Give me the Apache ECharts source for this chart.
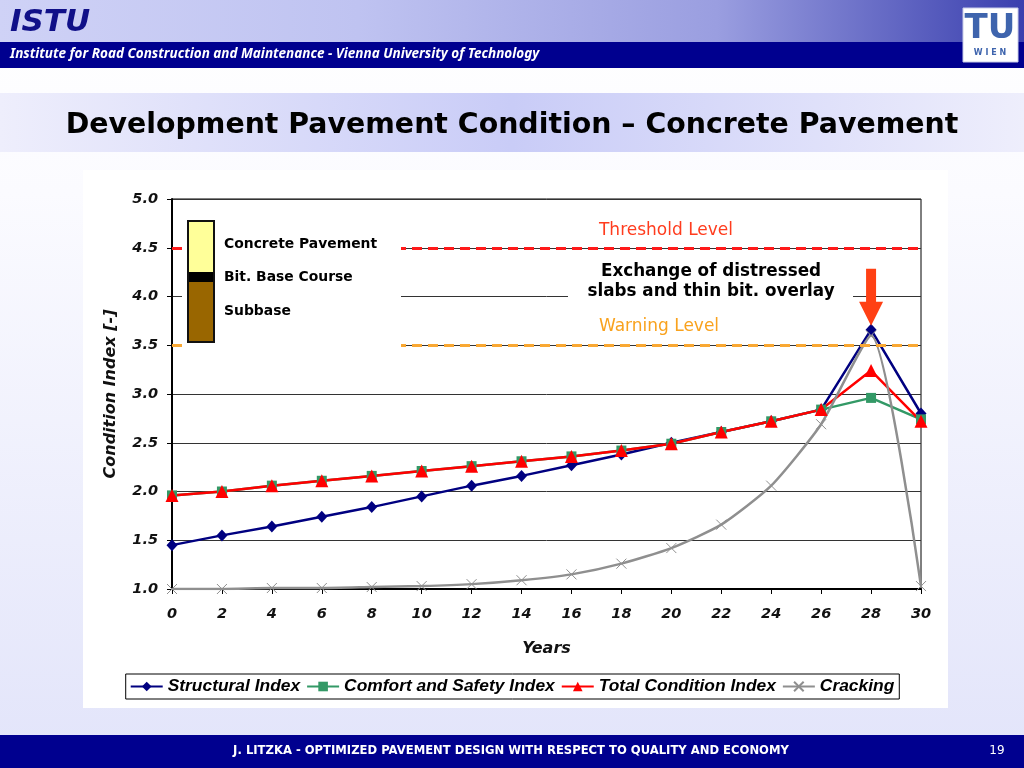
<!DOCTYPE html>
<html>
<head>
<meta charset="utf-8">
<script src="https://cdn.jsdelivr.net/npm/echarts@6/dist/echarts.min.js"></script>
<style>
html,body{margin:0;padding:0;background:#fff;}
#c{width:1024px;height:768px;}
</style>
</head>
<body>
<div id="c"></div>
<script>
const years = [0, 2, 4, 6, 8, 10, 12, 14, 16, 18, 20, 22, 24, 26, 28, 30];
const structural = [1.45, 1.55, 1.64, 1.74, 1.84, 1.95, 2.06, 2.16, 2.27, 2.38, 2.50, 2.61, 2.72, 2.84, 3.66, 2.80];
const comfort = [1.96, 2.00, 2.06, 2.11, 2.16, 2.21, 2.26, 2.31, 2.36, 2.42, 2.49, 2.61, 2.72, 2.84, 2.96, 2.74];
const totalIdx = [1.96, 2.00, 2.06, 2.11, 2.16, 2.21, 2.26, 2.31, 2.36, 2.42, 2.49, 2.61, 2.72, 2.84, 3.24, 2.72];
const cracking = [1.00, 1.00, 1.01, 1.01, 1.02, 1.03, 1.05, 1.09, 1.15, 1.26, 1.42, 1.66, 2.06, 2.69, 3.60, 1.03];
const seriesNames = ['Structural Index', 'Comfort and Safety Index', 'Total Condition Index', 'Cracking'];
const thresholdLevel = 4.5;
const warningLevel = 3.5;
const interventionYear = 28;

const pairs = arr => years.map((y, i) => [y, arr[i]]);
const F = '"DejaVu Sans", Verdana, sans-serif';
const FN = '"Liberation Sans Narrow", "Arial Narrow", "Liberation Sans", Arial, sans-serif';

const chart = echarts.init(document.getElementById('c'));

const graphic = [
  // slide background
  { type: 'rect', z: -20, shape: { x: 0, y: 0, width: 1024, height: 768 },
    style: { fill: new echarts.graphic.LinearGradient(0, 0, 0, 1, [
      { offset: 0, color: '#ffffff' }, { offset: 0.25, color: '#fbfbff' }, { offset: 1, color: '#e2e4fa' }]) } },
  // header gradient
  { type: 'rect', z: -19, shape: { x: 0, y: 0, width: 1024, height: 42 },
    style: { fill: new echarts.graphic.LinearGradient(0, 0, 1, 0, [
      { offset: 0, color: '#cfd2f6' }, { offset: 0.35, color: '#bfc3f1' }, { offset: 0.7, color: '#9a9ee0' }, { offset: 1, color: '#3a3fae' }]) } },
  { type: 'rect', z: -19, shape: { x: 0, y: 42, width: 1024, height: 26 }, style: { fill: '#00008f' } },
  // title band
  { type: 'rect', z: -19, shape: { x: 0, y: 93, width: 1024, height: 59 },
    style: { fill: new echarts.graphic.LinearGradient(0, 0, 1, 0, [
      { offset: 0, color: '#eeeefc' }, { offset: 0.5, color: '#c9ccf7' }, { offset: 1, color: '#eeeefc' }]) } },
  // footer
  { type: 'rect', z: -19, shape: { x: 0, y: 735, width: 1024, height: 33 }, style: { fill: '#00008f' } },
  // chart panel
  { type: 'rect', z: -18, shape: { x: 83, y: 170, width: 865, height: 538 }, style: { fill: '#ffffff' } },

  // header texts
  { type: 'text', z: 10, left: 10, top: 7,
    style: { text: 'ISTU', font: 'italic bold 31px ' + F, fill: '#101088' } },
  { type: 'text', z: 10, left: 10, top: 47,
    style: { text: 'Institute for Road Construction and Maintenance - Vienna University of Technology',
      font: 'italic bold 13.5px "Noto Sans", ' + F, fill: '#ffffff' } },
  // TU logo
  { type: 'rect', z: 10, shape: { x: 963, y: 8, width: 55, height: 54 }, style: { fill: '#ffffff', stroke: '#c8cce8', lineWidth: 1 } },
  { type: 'text', z: 11, x: 990, y: 29,
    style: { text: 'TU', font: 'bold 34px ' + F, fill: '#3e64ad', align: 'center', verticalAlign: 'middle' } },
  { type: 'text', z: 11, x: 990, y: 53,
    style: { text: 'W I E N', font: 'bold 8px ' + F, fill: '#3e64ad', align: 'center', verticalAlign: 'middle' } },
  // title
  { type: 'text', z: 10, x: 512, y: 126,
    style: { text: 'Development Pavement Condition \u2013 Concrete Pavement', font: 'bold 28.4px ' + F, fill: '#000000', align: 'center', verticalAlign: 'middle' } },
  // footer texts
  { type: 'text', z: 10, x: 511, y: 751,
    style: { text: 'J. LITZKA - OPTIMIZED PAVEMENT DESIGN WITH RESPECT TO QUALITY AND ECONOMY', font: 'bold 11.6px ' + F, fill: '#ffffff', align: 'center', verticalAlign: 'middle' } },
  { type: 'text', z: 10, x: 997, y: 751,
    style: { text: '19', font: '12px ' + F, fill: '#ffffff', align: 'center', verticalAlign: 'middle' } },

  // white covers behind annotation text
  { type: 'rect', z: 50, shape: { x: 182, y: 212, width: 219, height: 140 }, style: { fill: '#ffffff' } },
  { type: 'rect', z: 50, shape: { x: 568, y: 262, width: 285, height: 40 }, style: { fill: '#ffffff' } },

  // pavement layer sketch
  { type: 'rect', z: 51, shape: { x: 188, y: 221, width: 26, height: 52 }, style: { fill: '#ffff99' } },
  { type: 'rect', z: 51, shape: { x: 188, y: 272, width: 26, height: 10 }, style: { fill: '#000000' } },
  { type: 'rect', z: 51, shape: { x: 188, y: 282, width: 26, height: 60 }, style: { fill: '#996600' } },
  { type: 'rect', z: 52, shape: { x: 188, y: 221, width: 26, height: 121 }, style: { fill: 'none', stroke: '#111111', lineWidth: 2 } },
  { type: 'text', z: 52, x: 224, y: 244, style: { text: 'Concrete Pavement', font: 'bold 13.9px ' + F, fill: '#000', verticalAlign: 'middle' } },
  { type: 'text', z: 52, x: 224, y: 277, style: { text: 'Bit. Base Course', font: 'bold 13.9px ' + F, fill: '#000', verticalAlign: 'middle' } },
  { type: 'text', z: 52, x: 224, y: 311, style: { text: 'Subbase', font: 'bold 13.9px ' + F, fill: '#000', verticalAlign: 'middle' } },

  // level labels and measure
  { type: 'text', z: 52, x: 666, y: 231, style: { text: 'Threshold Level', font: '17px ' + F, fill: '#ff3c1e', align: 'center', verticalAlign: 'middle' } },
  { type: 'text', z: 52, x: 659, y: 327, style: { text: 'Warning Level', font: '17px ' + F, fill: '#f9a21d', align: 'center', verticalAlign: 'middle' } },
  { type: 'text', z: 52, x: 711, y: 272, style: { text: 'Exchange of distressed', font: 'bold 16.8px ' + F, fill: '#000', align: 'center', verticalAlign: 'middle' } },
  { type: 'text', z: 52, x: 711, y: 292, style: { text: 'slabs and thin bit. overlay', font: 'bold 16.8px ' + F, fill: '#000', align: 'center', verticalAlign: 'middle' } }
];

const axisLabelStyle = { fontFamily: F, fontWeight: 'bold', fontStyle: 'italic', fontSize: 14.5, color: '#111' };

const option = {
  animation: false,
  backgroundColor: 'transparent',
  graphic: graphic,
  grid: { left: 172, top: 199, width: 749, height: 390, show: true, borderColor: '#000', borderWidth: 1, backgroundColor: 'transparent' },
  legend: {
    data: seriesNames,
    left: 'center', top: 674,
    padding: [4, 5, 4, 4],
    itemGap: 6,
    itemWidth: 32, itemHeight: 12,
    borderColor: '#000', borderWidth: 1, backgroundColor: '#fff',
    textStyle: { fontFamily: FN, fontWeight: 'bold', fontStyle: 'italic', fontSize: 17.4, color: '#000' }
  },
  xAxis: {
    type: 'value', min: 0, max: 30, interval: 2,
    name: 'Years', nameLocation: 'middle', nameGap: 52,
    nameTextStyle: { fontFamily: F, fontWeight: 'bold', fontStyle: 'italic', fontSize: 16, color: '#111' },
    axisLine: { show: true, lineStyle: { color: '#000', width: 2 } },
    axisTick: { show: true, length: 5, lineStyle: { color: '#000', width: 1 } },
    axisLabel: Object.assign({ margin: 18 }, axisLabelStyle),
    splitLine: { show: false }
  },
  yAxis: {
    type: 'value', min: 1, max: 5, interval: 0.5,
    name: 'Condition Index [-]', nameLocation: 'middle', nameGap: 53, nameRotate: 90,
    nameTextStyle: { fontFamily: F, fontWeight: 'bold', fontStyle: 'italic', fontSize: 16, color: '#111' },
    axisLine: { show: true, lineStyle: { color: '#000', width: 2 } },
    axisTick: { show: true, length: 5, lineStyle: { color: '#000', width: 1 } },
    axisLabel: Object.assign({ margin: 14, formatter: v => v.toFixed(1) }, axisLabelStyle),
    splitLine: { show: true, lineStyle: { color: '#333', width: 1 } }
  },
  series: [
    {
      name: seriesNames[0], type: 'line', data: pairs(structural),
      symbol: 'diamond', symbolSize: [11, 12], showAllSymbol: true,
      lineStyle: { color: '#000080', width: 2.5 },
      itemStyle: { color: '#000080', borderWidth: 0 }
    },
    {
      name: seriesNames[1], type: 'line', data: pairs(comfort),
      symbol: 'rect', symbolSize: 10, showAllSymbol: true,
      lineStyle: { color: '#339966', width: 2.5 },
      itemStyle: { color: '#339966', borderWidth: 0 },
      markLine: {
        silent: true, symbol: 'none', label: { show: false },
        data: [
          { yAxis: thresholdLevel, lineStyle: { color: '#ff1a1a', width: 3, type: [10, 6] } },
          { yAxis: warningLevel, lineStyle: { color: '#f9a833', width: 3, type: [10, 6] } }
        ]
      }
    },
    {
      name: seriesNames[2], type: 'line', data: pairs(totalIdx),
      symbol: 'triangle', symbolSize: 13, showAllSymbol: true,
      lineStyle: { color: '#ff0000', width: 2.5 },
      itemStyle: { color: '#ff0000', borderWidth: 0 }
    },
    {
      name: seriesNames[3], type: 'line', data: pairs(cracking),
      symbol: 'path://M0,0L10,10M10,0L0,10', symbolSize: 10, showAllSymbol: true,
      smooth: 0.2,
      lineStyle: { color: '#8f8f8f', width: 2.5 },
      itemStyle: { color: '#8f8f8f', borderColor: '#8f8f8f', borderWidth: 1 }
    }
  ]
};

chart.setOption(option);

// red arrow pointing at the intervention point, placed through the axes
const tip = chart.convertToPixel({ gridIndex: 0 }, [interventionYear, structural[years.indexOf(interventionYear)]]);
const tx = tip[0], ty = tip[1] - 4;
graphic.push({
  type: 'polygon', z: 60,
  shape: { points: [[tx - 5, ty - 57], [tx + 5, ty - 57], [tx + 5, ty - 24], [tx + 12, ty - 24], [tx, ty], [tx - 12, ty - 24], [tx - 5, ty - 24]] },
  style: { fill: '#ff4014' }
});
chart.setOption({ graphic: graphic });
</script>
</body>
</html>
